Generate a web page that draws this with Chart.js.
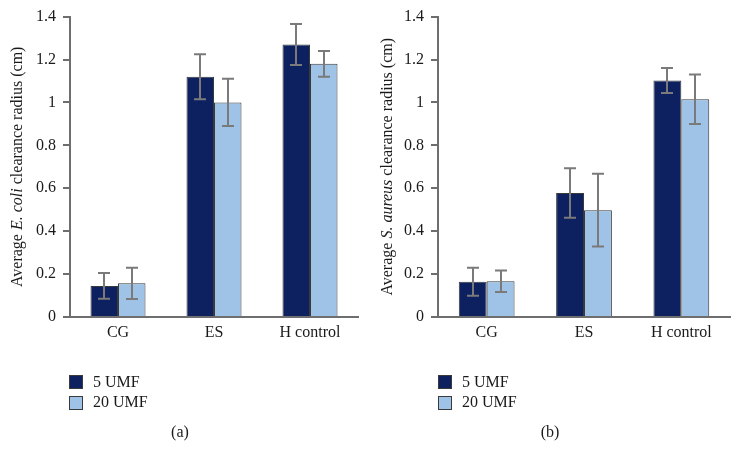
<!DOCTYPE html>
<html>
<head>
<meta charset="utf-8">
<script src="https://cdn.jsdelivr.net/npm/chart.js@4/dist/chart.umd.min.js"></script>
<style>
  html, body { margin: 0; padding: 0; background: #ffffff; }
  #wrap { position: relative; width: 741px; height: 464px; overflow: hidden; font-family: "Liberation Serif", "DejaVu Serif", serif; color: #1a1a1a; }
  canvas { position: absolute; top: 0; }
  .leg { position: absolute; font-size: 16px; line-height: 16px; white-space: nowrap; }
  .sw { position: absolute; width: 12px; height: 12px; border: 1px solid #3a3a3a; }
  .panel { position: absolute; font-size: 16px; transform: translate(-50%, -50%); }
</style>
</head>
<body>
<div id="wrap">
  <canvas id="cA" width="370" height="464" style="left:0px"></canvas>
  <canvas id="cB" width="371" height="464" style="left:370px"></canvas>
</div>
<script>
// ---- data ----
const categories = ["CG", "ES", "H control"];
const seriesNames = ["5 UMF", "20 UMF"];
const yTickLabels = ["0", "0.2", "0.4", "0.6", "0.8", "1", "1.2", "1.4"];

// (a) E. coli
const ecoli5 = [0.145, 1.12, 1.27];
const ecoli5Err = [0.06, 0.105, 0.095];
const ecoli20 = [0.157, 1.0, 1.18];
const ecoli20Err = [0.073, 0.11, 0.06];

// (b) S. aureus
const saureus5 = [0.164, 0.578, 1.102];
const saureus5Err = [0.065, 0.115, 0.058];
const saureus20 = [0.167, 0.498, 1.015];
const saureus20Err = [0.05, 0.17, 0.115];

const panelLabels = ["(a)", "(b)"];
const titleA = [["Average ", false], ["E. coli", true], [" clearance radius (cm)", false]];
const titleB = [["Average ", false], ["S. aureus", true], [" clearance radius (cm)", false]];

// ---- styles ----
const DARK = "#0d2160";
const LIGHT = "#9fc3e6";
const BORDER = "#3a3a3a";
const AXIS = "#6e6e6e";
const ERR = "#7a7a7a";
const FONT = "'Liberation Serif', 'DejaVu Serif', serif";

const errorBarPlugin = {
  id: "errorBars",
  afterDatasetsDraw(chart) {
    const ctx = chart.ctx;
    const ys = chart.scales.y;
    ctx.save();
    ctx.strokeStyle = ERR;
    ctx.lineWidth = 2;
    chart.data.datasets.forEach((ds, di) => {
      const meta = chart.getDatasetMeta(di);
      meta.data.forEach((el, i) => {
        const v = ds.data[i], e = ds.errors[i];
        const yt = ys.getPixelForValue(v + e);
        const yb = ys.getPixelForValue(v - e);
        const x = Math.round(el.x);
        ctx.beginPath();
        ctx.moveTo(x, yt); ctx.lineTo(x, yb);
        ctx.moveTo(x - 6, yt); ctx.lineTo(x + 6, yt);
        ctx.moveTo(x - 6, yb); ctx.lineTo(x + 6, yb);
        ctx.stroke();
      });
    });
    ctx.restore();
  }
};

const yTitlePlugin = {
  id: "yTitle",
  afterDraw(chart, args, opts) {
    const ctx = chart.ctx;
    const area = chart.chartArea;
    const cy = (area.top + area.bottom) / 2;
    ctx.save();
    ctx.translate(opts.x, cy);
    ctx.rotate(-Math.PI / 2);
    ctx.fillStyle = "#1a1a1a";
    ctx.textBaseline = "middle";
    ctx.textAlign = "left";
    let total = 0;
    const widths = opts.parts.map(p => {
      ctx.font = (p[1] ? "italic " : "") + "16px " + FONT;
      const w = ctx.measureText(p[0]).width;
      total += w;
      return w;
    });
    let x = -total / 2;
    opts.parts.forEach((p, i) => {
      ctx.font = (p[1] ? "italic " : "") + "16px " + FONT;
      ctx.fillText(p[0], x, 0);
      x += widths[i];
    });
    ctx.restore();
  }
};

function makeChart(id, d5, e5, d20, e20, yAxisWidth, padRight, titleParts, titleX) {
  return new Chart(document.getElementById(id), {
    type: "bar",
    data: {
      labels: categories,
      datasets: [
        { label: seriesNames[0], data: d5, errors: e5, backgroundColor: DARK, borderColor: BORDER, borderWidth: 1,
          categoryPercentage: 0.573, barPercentage: 1.0 },
        { label: seriesNames[1], data: d20, errors: e20, backgroundColor: LIGHT, borderColor: BORDER, borderWidth: 1,
          categoryPercentage: 0.573, barPercentage: 1.0 }
      ]
    },
    options: {
      responsive: false,
      animation: false,
      layout: { padding: { top: 16, right: padRight, bottom: 107, left: 0 } },
      plugins: {
        legend: { display: false },
        tooltip: { enabled: false },
        yTitle: { parts: titleParts, x: titleX }
      },
      scales: {
        x: {
          grid: { display: false, drawTicks: false },
          border: { display: true, color: AXIS, width: 2 },
          ticks: { color: "#1a1a1a", font: { family: FONT, size: 16 }, padding: 6, maxRotation: 0 },
          afterFit(scale) { scale.height = 40; }
        },
        y: {
          min: 0, max: 1.4,
          grid: { display: true, drawOnChartArea: false, drawTicks: true, tickLength: 7, color: AXIS, lineWidth: 2 },
          border: { display: true, color: AXIS, width: 2 },
          ticks: {
            stepSize: 0.2, color: "#1a1a1a", font: { family: FONT, size: 16 }, padding: 7,
            callback: (v, i) => yTickLabels[i]
          },
          afterFit(scale) { scale.width = yAxisWidth; }
        }
      }
    },
    plugins: [errorBarPlugin, yTitlePlugin]
  });
}

makeChart("cA", ecoli5, ecoli5Err, ecoli20, ecoli20Err, 70, 12, titleA, 18);
makeChart("cB", saureus5, saureus5Err, saureus20, saureus20Err, 68, 11, titleB, 18);

// legends and panel labels (HTML text)
const wrap = document.getElementById("wrap");
[[69, 93], [438, 462]].forEach(([sx, tx]) => {
  [DARK, LIGHT].forEach((c, i) => {
    const sw = document.createElement("div");
    sw.className = "sw";
    sw.style.left = sx + "px";
    sw.style.top = (375 + i * 21) + "px";
    sw.style.background = c;
    wrap.appendChild(sw);
    const t = document.createElement("div");
    t.className = "leg";
    t.style.left = tx + "px";
    t.style.top = (374 + i * 20) + "px";
    t.textContent = seriesNames[i];
    wrap.appendChild(t);
  });
});
[[180, 432], [550, 432]].forEach(([x, y], i) => {
  const p = document.createElement("div");
  p.className = "panel";
  p.style.left = x + "px";
  p.style.top = y + "px";
  p.textContent = panelLabels[i];
  wrap.appendChild(p);
});
</script>
</body>
</html>
